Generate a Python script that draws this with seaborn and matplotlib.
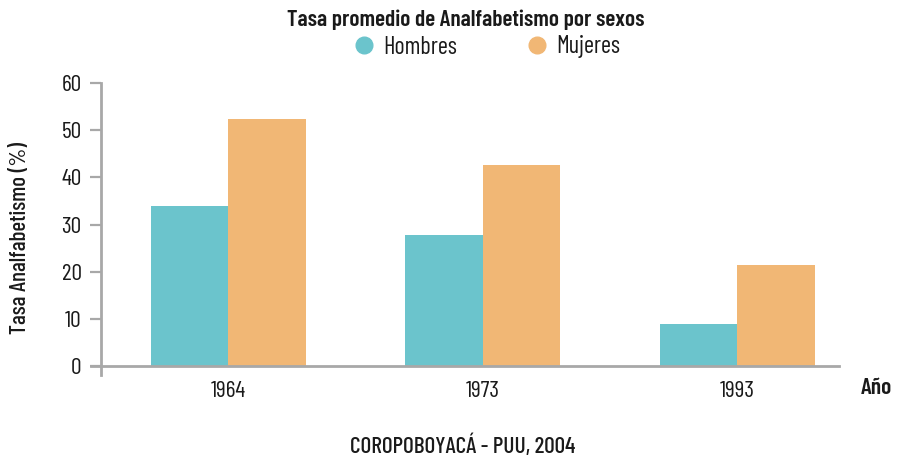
import matplotlib
matplotlib.use("Agg")
import matplotlib.pyplot as plt
from matplotlib.lines import Line2D
import seaborn as sns
import pandas as pd

# ---- data ----
years = ["1964", "1973", "1993"]
hombres = [34.0, 27.7, 8.9]
mujeres = [52.3, 42.6, 21.5]
series_names = ["Hombres", "Mujeres"]
colors = ["#6BC4CC", "#F1B775"]
y_ticks = [0, 10, 20, 30, 40, 50, 60]

title = "Tasa promedio de Analfabetismo por sexos"
ylabel = "Tasa Analfabetismo (%)"
xlabel = "Año"
footer = "COROPOBOYACÁ - PUU, 2004"

df = pd.DataFrame({
    "Año": years * 2,
    "Sexo": [series_names[0]] * 3 + [series_names[1]] * 3,
    "Tasa": hombres + mujeres,
})

sns.set_theme(style="white")
FONT = "Barlow Condensed"
plt.rcParams["font.family"] = [FONT, "DejaVu Sans"]
TXT = "#1a1a1a"
GRAY = "#A8A8A8"

W, H = 901, 459
fig = plt.figure(figsize=(W / 100, H / 100), dpi=100)
ax = fig.add_axes([101 / W, 1 - 366 / H, (839 - 101) / W, (366 - 83) / H])

sns.barplot(data=df, x="Año", y="Tasa", hue="Sexo", order=years,
            hue_order=series_names, palette=colors, width=0.61, gap=0,
            saturation=1, legend=False, ax=ax, linewidth=0)

ax.set_xlim(-0.5, 2.4)
ax.set_ylim(0, 60)
ax.set_yticks(y_ticks)
ax.set_yticklabels([str(t) for t in y_ticks])
ax.set_xlabel("")
ax.set_ylabel("")

for s in ["top", "right"]:
    ax.spines[s].set_visible(False)
for s in ["left", "bottom"]:
    ax.spines[s].set_color(GRAY)
    ax.spines[s].set_linewidth(2)
ax.spines["left"].set_bounds(-2, 60)
ax.spines["bottom"].set_bounds(-0.54, 2.4)

ax.tick_params(axis="y", length=8, width=1.6, color=GRAY, pad=6,
               labelsize=17, labelcolor=TXT, left=True)
ax.tick_params(axis="x", length=0, pad=11, labelsize=17, labelcolor=TXT)
for lab in ax.get_xticklabels() + ax.get_yticklabels():
    lab.set_fontweight(400)

fig.text(466 / W, 1 - 20 / H, title, ha="center", va="center",
         fontsize=16.8, fontweight=600, color=TXT)
fig.text(20 / W, 1 - 238 / H, ylabel, ha="center", va="center",
         rotation=90, fontsize=16.5, fontweight=500, color=TXT)
fig.text(876 / W, 1 - 388 / H, xlabel, ha="center", va="center",
         fontsize=17, fontweight=600, color=TXT)
fig.text(463 / W, 1 - 446 / H, footer, ha="center", va="center",
         fontsize=16.8, fontweight=500, color=TXT)

handles = [Line2D([0], [0], marker="o", linestyle="none", markersize=12,
                  markerfacecolor=c, markeredgecolor=c) for c in colors]
leg = fig.legend(handles, series_names, loc="center",
                 bbox_to_anchor=(486 / W, 1 - 47 / H), ncol=2, frameon=False,
                 fontsize=17.5, handletextpad=0.3, columnspacing=2.75,
                 borderaxespad=0, handlelength=1.0)
for t in leg.get_texts():
    t.set_color(TXT)

fig.savefig("out.png", dpi=100)
